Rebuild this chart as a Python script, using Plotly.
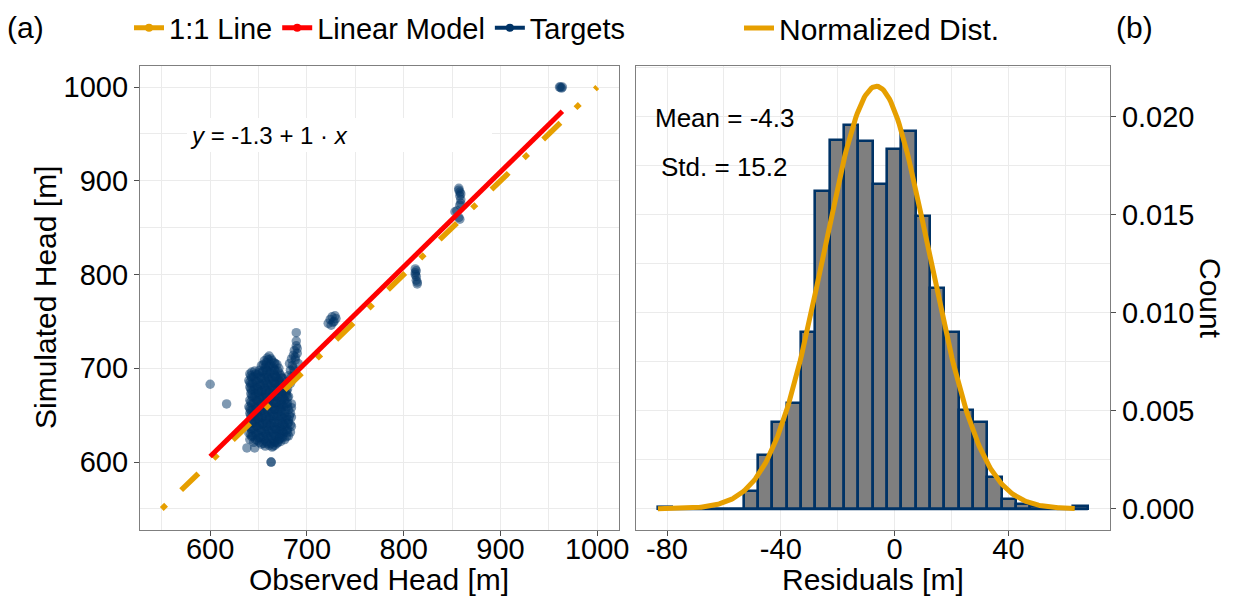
import numpy as np
import plotly.graph_objects as go

# ---------------- panel (a): observed vs simulated heads ----------------
observed_head = [
    641, 640, 641, 642, 641, 640, 641, 642, 641, 640, 641,
    643, 643, 644, 643, 642, 643, 644, 643, 642, 643, 643,
    645, 644, 645, 646, 645, 644, 645, 646, 645, 644, 645, 646,
    647, 647, 648, 647, 646, 647, 648, 647, 646, 647, 647,
    649, 648, 649, 650, 649, 648, 649, 650, 649, 648, 649,
    651, 651, 652, 651, 650, 651, 652, 651, 650, 651, 652, 651,
    653, 652, 653, 654, 653, 652, 653, 654, 653, 652, 653, 654, 653,
    655, 655, 656, 655, 654, 655, 656, 655, 654, 655, 656, 655, 655,
    657, 656, 657, 658, 657, 656, 657, 658, 657, 656, 657, 658, 657, 656,
    659, 659, 660, 659, 658, 659, 660, 659, 658, 659, 660, 659, 658, 659,
    661, 660, 661, 662, 661, 660, 661, 662, 661, 660, 661, 662, 661, 660, 661,
    663, 663, 664, 663, 662, 663, 664, 663, 662, 663, 664, 663, 662, 663,
    665, 664, 665, 666, 665, 664, 665, 666, 665, 664, 665, 666, 665, 664,
    667, 667, 668, 667, 666, 667, 668, 667, 666, 667, 668, 667, 667,
    669, 668, 669, 670, 669, 668, 669, 670, 669, 668, 669, 670, 669,
    671, 671, 672, 671, 670, 671, 672, 671, 670, 671, 672, 671,
    673, 672, 673, 674, 673, 672, 673, 674, 673, 672, 673,
    675, 675, 676, 675, 674, 675, 676, 675, 674, 675,
    677, 676, 677, 678, 677, 676, 677, 678, 677,
    679, 679, 680, 679, 678, 679, 680, 679,
    681, 680, 681, 682, 681, 680, 681,
    683, 683, 684, 684, 684, 684, 683,
    642, 642, 643, 642, 641, 642, 643, 642, 641, 642,
    650, 650, 651, 650, 649, 650, 651, 650, 649, 650, 650,
    658, 658, 659, 658, 657, 658, 659, 658, 657, 658, 659, 658, 658,
    666, 666, 667, 666, 665, 666, 667, 666, 665, 666, 667, 666, 666,
    674, 674, 675, 674, 673, 674, 675, 674, 673, 674,
    680, 681, 680, 679,
    679, 681, 683, 682, 685, 684, 686, 688, 687, 689, 690, 689, 686, 691, 680, 683,
    684, 687, 688, 690,
    689,
    667, 664, 672, 670,
    600, 617, 638, 646, 663, 663,
    722, 724, 726, 728, 730, 725, 729, 727,
    812, 812, 813, 813, 814, 812, 813, 814,
    857, 858, 858, 859, 859, 858, 857, 859, 853, 855, 858, 857,
    961, 962, 964, 963,
]
simulated_head = [
    624, 631, 638, 645, 652, 659, 666, 673, 680, 687, 694,
    627, 634, 641, 648, 655, 662, 669, 676, 683, 690, 696,
    621, 628, 635, 642, 649, 656, 663, 670, 677, 684, 691, 697,
    624, 631, 638, 645, 652, 659, 666, 673, 680, 687, 694,
    623, 630, 637, 644, 651, 658, 665, 672, 679, 686, 693,
    621, 628, 635, 642, 649, 656, 663, 670, 677, 684, 691, 698,
    619, 626, 633, 640, 647, 654, 661, 668, 675, 682, 689, 696, 703,
    620, 627, 634, 641, 648, 655, 662, 669, 676, 683, 690, 697, 704,
    617, 624, 631, 638, 645, 652, 659, 666, 673, 680, 687, 694, 701, 708,
    620, 627, 634, 641, 648, 655, 662, 669, 676, 683, 690, 697, 704, 711,
    618, 625, 632, 639, 646, 653, 660, 667, 674, 681, 688, 695, 702, 709, 713,
    620, 627, 634, 641, 648, 655, 662, 669, 676, 683, 690, 697, 704, 710,
    617, 624, 631, 638, 645, 652, 659, 666, 673, 680, 687, 694, 701, 708,
    621, 628, 635, 642, 649, 656, 663, 670, 677, 684, 691, 698, 705,
    620, 627, 634, 641, 648, 655, 662, 669, 676, 683, 690, 697, 704,
    624, 631, 638, 645, 652, 659, 666, 673, 680, 687, 694, 700,
    622, 629, 636, 643, 650, 657, 664, 671, 678, 685, 692,
    626, 633, 640, 647, 654, 661, 668, 675, 682, 689,
    624, 631, 638, 645, 652, 659, 666, 673, 680,
    627, 634, 641, 648, 655, 662, 669, 676,
    628, 635, 642, 649, 656, 663, 670,
    632, 640, 638, 648, 658, 662, 652,
    629, 636, 643, 650, 657, 664, 671, 678, 685, 692,
    626, 633, 640, 647, 654, 661, 668, 675, 682, 689, 695,
    622, 629, 636, 643, 650, 657, 664, 671, 678, 685, 692, 699, 706,
    622, 629, 636, 643, 650, 657, 664, 671, 678, 685, 692, 699, 706,
    627, 634, 641, 648, 655, 662, 669, 676, 683, 690,
    632, 645, 659, 672,
    686, 692, 698, 705, 703, 710, 714, 709, 719, 724, 716, 729, 700, 705, 678, 684,
    691, 697, 712, 721,
    738,
    618, 616, 625, 621,
    683, 662, 615, 615, 600, 600,
    748, 752, 755, 750, 753, 746, 756, 749,
    806, 802, 798, 794, 790, 800, 804, 792,
    892, 888, 884, 880, 876, 874, 890, 886, 867, 868, 859, 861,
    1000, 1000, 1000, 999,
]

one_to_one = [550, 1000]
fit_intercept = -1.3
fit_slope = 1.012

# ---------------- panel (b): residual histogram ----------------
bin_first_edge = -83.3
bin_width = 5.04
bin_density = [
    0.00010, 0.0, 0.0, 0.0, 0.0, 0.0,
    0.00093, 0.00276, 0.00444, 0.00542, 0.00903, 0.01624,
    0.01881, 0.01958, 0.01878, 0.01656, 0.01834, 0.01929,
    0.01497, 0.01125, 0.00902, 0.00503, 0.00444, 0.00165,
    0.00050, 0.00026, 0.00013, 0.0, 0.0, 0.00014,
]
curve_mean = -6.4
curve_sd = 18.5
curve_span = [-83.2, 63.3]
resid_mean = -4.3
resid_std = 15.2

head_ticks = [600, 700, 800, 900, 1000]
resid_ticks = [-80, -40, 0, 40]
density_ticks = [0.0, 0.005, 0.010, 0.015, 0.020]

NAVY = "#003366"
ORANGE = "#E69F00"
RED = "#FF0000"
GREY_FILL = "#7F7F7F"
GRID = "#EBEBEB"
FONT = "Liberation Sans, Arial, sans-serif"

W, H = 1234, 598
fig = go.Figure()

# scatter of targets
fig.add_trace(go.Scatter(
    x=observed_head, y=simulated_head, mode="markers",
    marker=dict(color=NAVY, size=9.5, opacity=0.5, line=dict(width=0)),
    showlegend=False, xaxis="x", yaxis="y",
))
# 1:1 line
fig.add_trace(go.Scatter(
    x=one_to_one, y=one_to_one, mode="lines",
    line=dict(color=ORANGE, width=5.5, dash="6px,21px,24px,21px"),
    showlegend=False, xaxis="x", yaxis="y",
))
# fitted linear model over the observed range
fit_x = [min(observed_head), max(observed_head)]
fit_y = [fit_intercept + fit_slope * v for v in fit_x]
fig.add_trace(go.Scatter(
    x=fit_x, y=fit_y, mode="lines",
    line=dict(color=RED, width=5),
    showlegend=False, xaxis="x", yaxis="y",
))

# legend entries (line + point keys)
for name, col, lw in [("1:1 Line", ORANGE, 5), ("Linear Model", RED, 5), ("Targets", NAVY, 4)]:
    fig.add_trace(go.Scatter(
        x=[None], y=[None], mode="lines+markers", name=name,
        line=dict(color=col, width=lw), marker=dict(color=col, size=8),
        legend="legend", xaxis="x", yaxis="y",
    ))

# histogram
edges = bin_first_edge + bin_width * np.arange(len(bin_density) + 1)
centers = edges[:-1] + bin_width / 2
fig.add_trace(go.Scatter(
    x=[edges[0], edges[-1]], y=[0, 0], mode="lines",
    line=dict(color=NAVY, width=2.8), showlegend=False,
    xaxis="x2", yaxis="y2",
))
fig.add_trace(go.Bar(
    x=centers, y=bin_density, width=bin_width,
    marker=dict(color=GREY_FILL, line=dict(color=NAVY, width=2.6)),
    showlegend=False, xaxis="x2", yaxis="y2",
))
cx = np.linspace(curve_span[0], curve_span[1], 300)
cy = np.exp(-0.5 * ((cx - curve_mean) / curve_sd) ** 2) / (curve_sd * np.sqrt(2 * np.pi))
fig.add_trace(go.Scatter(
    x=cx, y=cy, mode="lines", name="Normalized Dist.",
    line=dict(color=ORANGE, width=5), legend="legend2",
    xaxis="x2", yaxis="y2",
))

axis_common = dict(
    showline=True, mirror=True, linecolor="#7F7F7F", linewidth=1.2,
    ticks="outside", ticklen=5, tickwidth=1.2, tickcolor="#4D4D4D",
    showgrid=True, gridcolor=GRID, gridwidth=1.2, zeroline=False,
    tickfont=dict(family=FONT, size=29, color="black"),
    tickmode="array", automargin=False,
)

def minor(step):
    return dict(showgrid=True, gridcolor=GRID, gridwidth=0.6, tick0=0, dtick=step, ticks="")

ydom = [1 - 530 / H, 1 - 66 / H]
fig.update_layout(
    template="none",
    width=W, height=H, margin=dict(l=0, r=0, t=0, b=0, pad=0),
    paper_bgcolor="white", plot_bgcolor="white",
    font=dict(family=FONT, size=29, color="black"),
    bargap=0,
    xaxis=dict(axis_common, domain=[140 / W, 619 / W], range=[527.5, 1022.5],
               tickvals=head_ticks, ticktext=[str(v) for v in head_ticks],
               minor=minor(50), ticklabelstandoff=-12, anchor="y"),
    yaxis=dict(axis_common, domain=ydom, range=[527.5, 1022.5],
               tickvals=head_ticks, ticktext=[str(v) for v in head_ticks],
               minor=minor(50), ticklabelstandoff=0, anchor="x"),
    xaxis2=dict(axis_common, domain=[636 / W, 1110 / W], range=[-90.9, 75.7],
                tickvals=resid_ticks, ticktext=[str(v) for v in resid_ticks],
                minor=minor(20), ticklabelstandoff=-12, anchor="y2"),
    yaxis2=dict(axis_common, domain=ydom, range=[-0.00108, 0.0226], side="right",
                tickvals=density_ticks, ticktext=[f"{v:.3f}" for v in density_ticks],
                minor=minor(0.0025), ticklabelstandoff=0, anchor="x2"),
    legend=dict(orientation="h", x=129 / W, xanchor="left", y=1 - 28 / H, yanchor="middle",
                font=dict(family=FONT, size=29, color="black"), bgcolor="rgba(0,0,0,0)",
                borderwidth=0, itemwidth=30, tracegroupgap=0),
    legend2=dict(orientation="h", x=739 / W, xanchor="left", y=1 - 28 / H, yanchor="middle",
                 font=dict(family=FONT, size=30, color="black"), bgcolor="rgba(0,0,0,0)",
                 borderwidth=0, itemwidth=30),
)

# white box behind the regression equation
fig.add_shape(type="rect", xref="x domain", yref="y domain",
              x0=(187 - 140) / 479, x1=(492 - 140) / 479,
              y0=(530 - 152) / 464, y1=(530 - 118) / 464,
              fillcolor="white", line=dict(width=0), layer="above")

def px_ann(text, x, y, size, xanchor="center", angle=0, yanchor="middle"):
    fig.add_annotation(text=text, x=x / W, y=1 - y / H, xref="paper", yref="paper",
                       xanchor=xanchor, yanchor=yanchor, showarrow=False, textangle=angle,
                       borderpad=0, font=dict(family=FONT, size=size, color="black"))

px_ann(f"<i>y</i> = {fit_intercept:.1f} + {fit_slope:.0f} · <i>x</i>", 189, 136, 24, xanchor="left")
px_ann(f"Mean = {resid_mean}", 724, 118, 26)
px_ann(f"Std. = {resid_std}", 724, 167, 26)
px_ann("(a)", 25, 28, 30)
px_ann("(b)", 1134, 28, 30)
px_ann("Observed Head [m]", 379, 597, 30, yanchor="bottom")
px_ann("Residuals [m]", 873, 597, 30, yanchor="bottom")
px_ann("Simulated Head [m]", 45, 298, 30, angle=-90)
px_ann("Count", 1211, 298, 30, angle=90)

fig.write_html("out.html")
